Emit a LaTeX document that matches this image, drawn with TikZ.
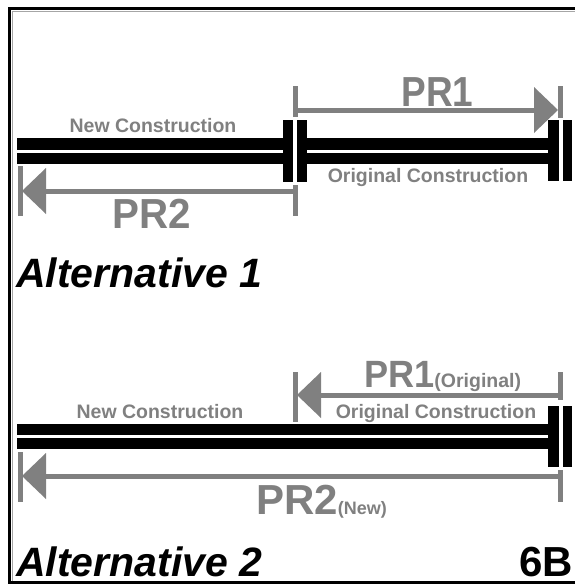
\documentclass[tikz,border=0pt]{standalone}
\usepackage{fontspec}
\setmainfont{Liberation Sans}
\definecolor{dimgray}{RGB}{128,128,128}
\begin{document}
\begin{tikzpicture}[x=1pt,y=-1pt,
  bar/.style={fill=black},
  gapfill/.style={fill=white},
  tick/.style={draw=dimgray,line width=5pt},
  dimline/.style={draw=dimgray,line width=5pt},
  head/.style={fill=dimgray},
  lbl/.style={text=dimgray,font=\fontsize{19.5}{20}\selectfont\bfseries,inner sep=0pt,anchor=base},
  prlbl/.style={text=dimgray,font=\fontsize{42}{42}\selectfont\bfseries,inner sep=0pt,anchor=base},
  alt/.style={text=black,font=\fontsize{41}{41}\selectfont\bfseries\itshape,inner sep=0pt,anchor=base west},
  tag/.style={text=black,font=\fontsize{42}{42}\selectfont\bfseries,inner sep=0pt,anchor=base west}
]
\useasboundingbox (0,0) rectangle (575,584);
\fill[white] (0,0) rectangle (575,584);

% frame
\draw[line width=3pt] (9.5,584) -- (9.5,8.5) -- (575,8.5);
\draw[line width=3pt] (9.5,582.5) -- (575,582.5);
\draw[black!35,line width=0.7pt] (12,581) -- (12,11) -- (575,11);

%%%%%%%%%%%%%%%% Alternative 1
% pipe
\fill[bar] (17,138) rectangle (572,150);
\fill[bar] (17,153) rectangle (572,164);
% flanges
\fill[bar] (283,120) rectangle (307,182);
\fill[gapfill] (293,120) rectangle (297,182);
\fill[bar] (548,120) rectangle (572,181);
\fill[gapfill] (559,120) rectangle (563,181);

% ticks
\coordinate (t1a) at (295,86);  \coordinate (t1b) at (295,117);
\coordinate (t1c) at (295,185); \coordinate (t1d) at (295,216);
\coordinate (t1e) at (560,86);  \coordinate (t1f) at (560,118);
\coordinate (t1g) at (20,166);  \coordinate (t1h) at (20,216);
\draw[tick] (t1a) -- (t1b);
\draw[tick] (t1c) -- (t1d);
\draw[tick] (t1e) -- (t1f);
\draw[tick] (t1g) -- (t1h);

% PR1 arrow (to the right)
\coordinate (p1s) at (293,110);
\coordinate (p1e) at (558,110);
\draw[dimline] (p1s) -- ([xshift=-20pt]p1e);
\fill[head] (p1e) -- ++(-24,-23) -- ++(0,46) -- cycle;

% PR2 arrow (to the left)
\coordinate (p2s) at (297,191);
\coordinate (p2e) at (22,191);
\draw[dimline] (p2s) -- ([xshift=20pt]p2e);
\fill[head] (p2e) -- ++(24,-23) -- ++(0,46) -- cycle;

% labels
\node[lbl] (new1) at (153,132) {New Construction};
\node[lbl] (orig1) at (428,182) {Original Construction};
\node[prlbl] (pr1) at (437.5,106.7) {\scalebox{0.88}[1]{PR1}};
\node[prlbl] (pr2) at (152,228) {\scalebox{0.96}[1]{PR2}};
\node[alt] (alt1) at (16,287) {Alternative 1};

%%%%%%%%%%%%%%%% Alternative 2
\fill[bar] (17,424) rectangle (572,435);
\fill[bar] (17,438) rectangle (572,449);
\fill[bar] (548,406) rectangle (572,467);
\fill[gapfill] (559,406) rectangle (563,467);

\coordinate (t2a) at (295,372); \coordinate (t2b) at (295,422);
\coordinate (t2c) at (560,372); \coordinate (t2d) at (560,400);
\coordinate (t2e) at (560,470); \coordinate (t2f) at (560,502);
\coordinate (t2g) at (20,452);  \coordinate (t2h) at (20,502);
\draw[tick] (t2a) -- (t2b);
\draw[tick] (t2c) -- (t2d);
\draw[tick] (t2e) -- (t2f);
\draw[tick] (t2g) -- (t2h);

% PR1 (Original) arrow (to the left)
\coordinate (q1s) at (562,395);
\coordinate (q1e) at (297,395);
\draw[dimline] (q1s) -- ([xshift=20pt]q1e);
\fill[head] (q1e) -- ++(24,-23) -- ++(0,46) -- cycle;

% PR2 (New) arrow (to the left)
\coordinate (q2s) at (562,476);
\coordinate (q2e) at (22,476);
\draw[dimline] (q2s) -- ([xshift=20pt]q2e);
\fill[head] (q2e) -- ++(24,-23) -- ++(0,46) -- cycle;

\node[lbl] (new2) at (160,418) {New Construction};
\node[lbl] (orig2) at (436,418) {Original Construction};
\node[prlbl,anchor=base west] (pr1o) at (364,387)
  {\scalebox{0.95}[1]{\fontsize{38}{38}\selectfont PR1}{\fontsize{19.5}{20}\selectfont(Original)}};
\node[prlbl,anchor=base west] (pr2n) at (256,514)
  {PR2{\fontsize{18}{18}\selectfont(New)}};
\node[alt] (alt2) at (16,576) {Alternative 2};
\node[tag] (tag6b) at (519,576) {6B};
\end{tikzpicture}
\end{document}
